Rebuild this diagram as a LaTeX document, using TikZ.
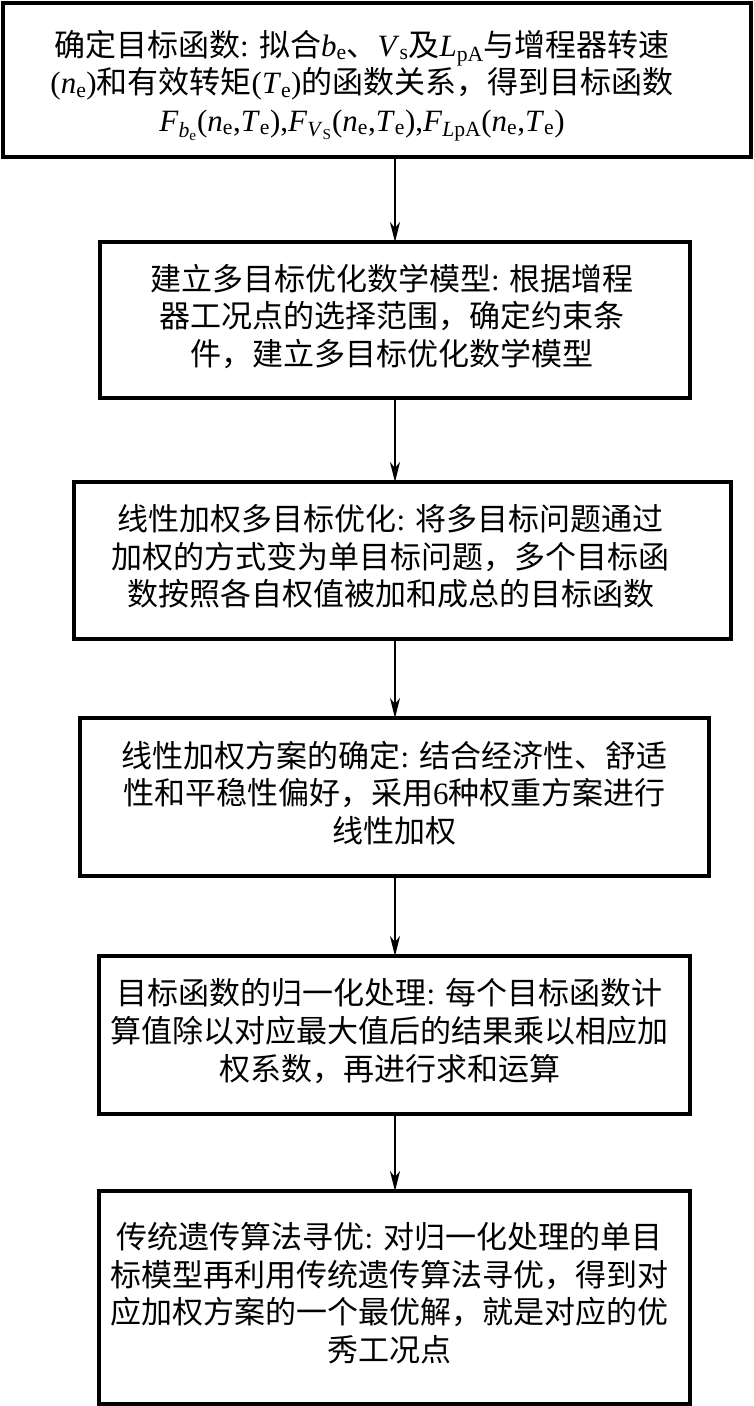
\documentclass[tikz,border=0pt]{standalone}
\usepackage{fontspec}
\setmainfont{Liberation Serif}
\newfontfamily\cjk{Noto Sans CJK SC}
\newfontfamily\lat{Liberation Serif}
\usetikzlibrary{arrows.meta}
\newcommand\lv[2]{\textit{#1}\textsubscript{#2}}
\newcommand\boxtext[3]{\raisebox{#2}[\height][\depth]{\begin{tabular}{@{}c@{\hspace{#1}}}#3\end{tabular}}}
\tikzset{
  flowbox/.style={draw, line width=4pt, inner sep=0pt, outer sep=0pt,
    font=\cjk\fontsize{31}{37.5}\selectfont, anchor=center},
  flowarrow/.style={line width=2pt, -{Stealth[length=20pt,width=10pt,inset=6pt]}}
}
\begin{document}
\begin{tikzpicture}[x=1pt,y=-1pt]
\useasboundingbox (0,0) rectangle (754,1406);
\fill[white] (0,0) rectangle (754,1406);
\coordinate (ax) at (395,0);

\node[flowbox, minimum width=748pt, minimum height=154pt] (b1) at (377,80)
{\boxtext{30pt}{-6pt}{确定目标函数{\lat: }拟合{\lat\lv{b}{e}}、{\lat\lv{V}{s}}及{\lat\lv{L}{pA}}与增程器转速\\
{\lat(\lv{n}{e})}和有效转矩{\lat(\lv{T}{e})}的函数关系，得到目标函数\\
{\lat\textit{F}\textsubscript{\lv{b}{e}}(\lv{n}{e},\lv{T}{e}),\textit{F}\textsubscript{\lv{V}{S}}(\lv{n}{e},\lv{T}{e}),\textit{F}\textsubscript{\textit{L}pA}(\lv{n}{e},\lv{T}{e})}}};

\node[flowbox, minimum width=590pt, minimum height=156pt] (b2) at (395,320)
{\boxtext{6pt}{0pt}{建立多目标优化数学模型{\lat: }根据增程\\器工况点的选择范围，确定约束条\\件，建立多目标优化数学模型}};

\node[flowbox, minimum width=657pt, minimum height=157pt] (b3) at (402.5,560.5)
{\boxtext{24pt}{0pt}{线性加权多目标优化{\lat: }将多目标问题通过\\加权的方式变为单目标问题，多个目标函\\数按照各自权值被加和成总的目标函数}};

\node[flowbox, minimum width=629pt, minimum height=158pt] (b4) at (394.5,797)
{\boxtext{0pt}{0pt}{线性加权方案的确定{\lat: }结合经济性、舒适\\性和平稳性偏好，采用{\lat 6}种权重方案进行\\线性加权}};

\node[flowbox, minimum width=591pt, minimum height=158pt] (b5) at (394.5,1035)
{\boxtext{10pt}{0pt}{目标函数的归一化处理{\lat: }每个目标函数计\\算值除以对应最大值后的结果乘以相应加\\权系数，再进行求和运算}};

\node[flowbox, minimum width=591pt, minimum height=213pt] (b6) at (394.5,1297.5)
{\boxtext{10pt}{0pt}{传统遗传算法寻优{\lat: }对归一化处理的单目\\标模型再利用传统遗传算法寻优，得到对\\应加权方案的一个最优解，就是对应的优\\秀工况点}};

\draw[flowarrow] (b1.south -| ax) -- (b2.north -| ax);
\draw[flowarrow] (b2.south -| ax) -- (b3.north -| ax);
\draw[flowarrow] (b3.south -| ax) -- (b4.north -| ax);
\draw[flowarrow] (b4.south -| ax) -- (b5.north -| ax);
\draw[flowarrow] (b5.south -| ax) -- (b6.north -| ax);
\end{tikzpicture}
\end{document}
